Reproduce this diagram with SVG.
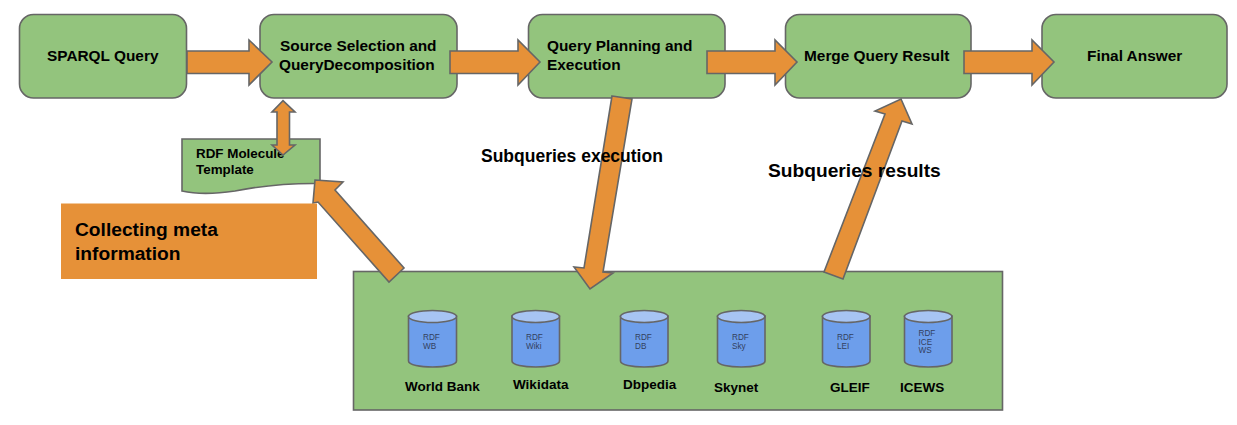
<svg xmlns="http://www.w3.org/2000/svg" width="1237" height="425" viewBox="0 0 1237 425">
<style>
.g{fill:#93c47d;stroke:#666;stroke-width:1.6}
.o{fill:#e69138;stroke:#666;stroke-width:1.6;stroke-linejoin:miter}
.c{fill:#6d9eeb;stroke:#666;stroke-width:1.6}
.t{fill:#a7c4f3;stroke:#666;stroke-width:1.6}
text{font-family:"Liberation Sans",Arial,sans-serif;fill:#000;font-weight:700}
.s{font-size:15.4px}
.m{font-size:13.4px}
.l{font-size:19.2px}
.e{font-size:17.5px}
.d{font-size:13.5px}
.r{font-size:8.2px;font-weight:400;fill:#33415f}
</style>
<rect width="1237" height="425" fill="#fff"/>
<g id="datasources"><rect class="g" x="353.5" y="271.5" width="649" height="138.5"/></g>
<g id="sparql-query"><rect class="g" x="19.5" y="14.5" width="167" height="83.5" rx="14"/><text class="s" x="47" y="61">SPARQL Query</text></g>
<g id="source-selection"><rect class="g" x="260" y="14.5" width="197" height="83.5" rx="14"/><text class="s" x="280" y="51">Source Selection and</text><text class="s" x="279" y="70">QueryDecomposition</text></g>
<g id="query-planning"><rect class="g" x="528.5" y="14.5" width="196.5" height="83.5" rx="14"/><text class="s" x="547" y="51">Query Planning and</text><text class="s" x="547" y="70">Execution</text></g>
<g id="merge-result"><rect class="g" x="785.5" y="14.5" width="185.5" height="83.5" rx="14"/><text class="s" x="804" y="61">Merge Query Result</text></g>
<g id="final-answer"><rect class="g" x="1042" y="14.5" width="185" height="83.5" rx="14"/><text class="s" x="1087" y="61">Final Answer</text></g>
<g id="rdf-template"><path class="g" d="M182 139H320V183.500C285 183 255 187 235 191C215 194 195 194 182 191Z"/><text class="m" x="196" y="158">RDF Molecule</text><text class="m" x="196" y="174">Template</text></g>
<g id="connectors">
<path class="o" d="M187 51H249V40L272 62L249 85V73.500H187Z"/>
<path class="o" d="M450 51H518V40L540 62L518 85V73.500H450Z"/>
<path class="o" d="M707 51H775V40L797 62L775 85V73.500H707Z"/>
<path class="o" d="M964 51H1032V40L1054 62L1032 85V73.500H964Z"/>
<path class="o" d="M283 100.700L295 112H289.500V145H295L283 155L272 145H277V112H272Z"/>
<path class="o" d="M315 180L343 182L335 190L404 268L389 282L318 202L313 203Z"/>
<path class="o" d="M612 96L632 99L603 272L613 273L590 289L574 267L584 268Z"/>
<path class="o" d="M824 272L843 279L902 121L912 124L901 99L875 111L885 114Z"/>
</g>
<g id="collecting"><rect x="61" y="203.500" width="256" height="75.500" fill="#e69138"/><text class="l" x="75" y="236">Collecting meta</text><text class="l" x="75" y="260">information</text></g>
<g id="edge-labels"><text class="e" x="481" y="162">Subqueries execution</text><text class="l" x="768" y="177">Subqueries results</text></g>
<g id="db-wb"><path class="c" d="M408.500 316V361C408.500 369 456.500 369 456.500 361V316Z"/><ellipse class="t" cx="432.500" cy="316.500" rx="24" ry="6"/><text class="r" x="423" y="340">RDF</text><text class="r" x="423" y="349">WB</text><text class="d" x="405" y="391">World Bank</text></g>
<g id="db-wiki"><path class="c" d="M512 316V361C512 369 559.500 369 559.500 361V316Z"/><ellipse class="t" cx="535.700" cy="316.500" rx="23.700" ry="6"/><text class="r" x="526" y="340">RDF</text><text class="r" x="526" y="349">Wiki</text><text class="d" x="513" y="389">Wikidata</text></g>
<g id="db-dbpedia"><path class="c" d="M620.500 316V361C620.500 369 668 369 668 361V316Z"/><ellipse class="t" cx="644.200" cy="316.500" rx="23.700" ry="6"/><text class="r" x="635" y="340">RDF</text><text class="r" x="635" y="349">DB</text><text class="d" x="623" y="389">Dbpedia</text></g>
<g id="db-skynet"><path class="c" d="M717.500 316V361C717.500 369 765 369 765 361V316Z"/><ellipse class="t" cx="741.200" cy="316.500" rx="23.700" ry="6"/><text class="r" x="732" y="340">RDF</text><text class="r" x="732" y="349">Sky</text><text class="d" x="714" y="392">Skynet</text></g>
<g id="db-gleif"><path class="c" d="M822.500 316V361C822.500 369 870 369 870 361V316Z"/><ellipse class="t" cx="846.200" cy="316.500" rx="23.700" ry="6"/><text class="r" x="837" y="340">RDF</text><text class="r" x="837" y="349">LEI</text><text class="d" x="830" y="392">GLEIF</text></g>
<g id="db-icews"><path class="c" d="M904.500 316V361C904.500 369 952 369 952 361V316Z"/><ellipse class="t" cx="928.200" cy="316.500" rx="23.700" ry="6"/><text class="r" x="918.500" y="336">RDF</text><text class="r" x="918.500" y="345">ICE</text><text class="r" x="918.500" y="353">WS</text><text class="d" x="900" y="392">ICEWS</text></g>
</svg>
